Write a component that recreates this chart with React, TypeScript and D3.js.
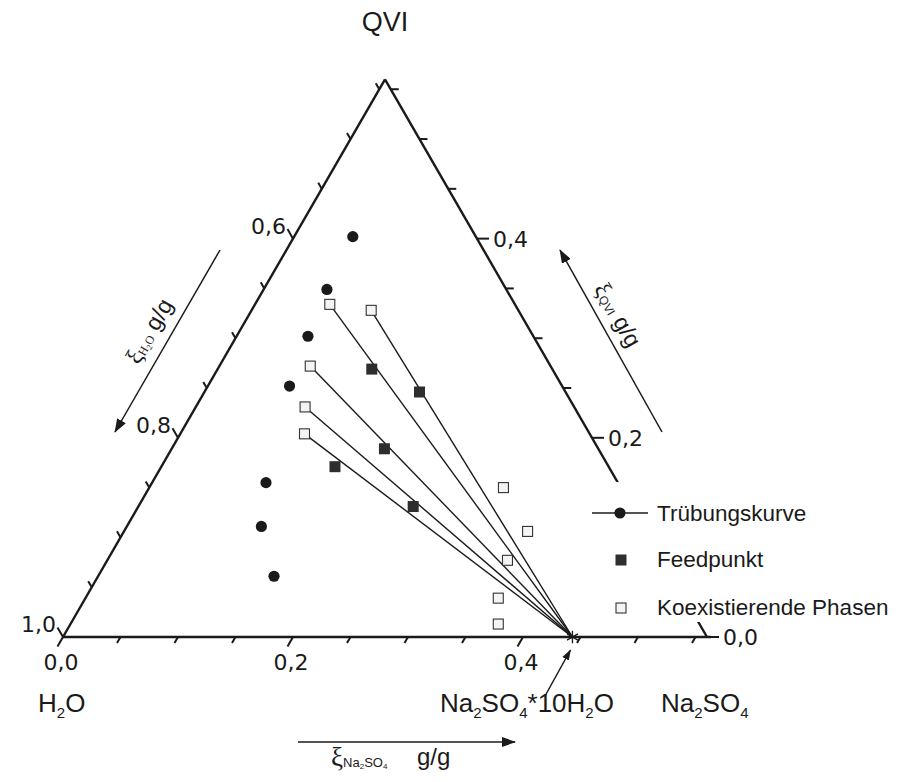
import React from 'react';
import * as d3 from 'd3';

// ---- Data (mass fractions, g/g) ----
// Trübungskurve (cloud point curve)
const cloudNa = [0.051, 0.055, 0.062, 0.071, 0.099, 0.117, 0.153];
const cloudQVI = [0.402, 0.349, 0.302, 0.252, 0.155, 0.111, 0.061];
// Feedpunkte
const feedNa = [0.134, 0.187, 0.185, 0.151, 0.239];
const feedQVI = [0.269, 0.246, 0.189, 0.171, 0.131];
// Koexistierende Phasen (upper, connected by tie lines)
const topNa = [0.065, 0.104, 0.079, 0.095, 0.108];
const topQVI = [0.334, 0.328, 0.272, 0.231, 0.204];
// Koexistierende Phasen (lower)
const botNa = [0.308, 0.351, 0.348, 0.359, 0.372];
const botQVI = [0.150, 0.106, 0.077, 0.039, 0.013];
// Na2SO4*10H2O
const hydrateNa = 0.443;
const hydrateQVI = 0;
// Axis
const axisSpan = 0.56;
const tickValues = d3.range(0, 0.5501, 0.05);
const labelValues = [0, 0.2, 0.4];

const W = 898, H = 782;
const X0 = 63, Y0 = 637;
const SIDE = 644;
const s = d3.scaleLinear().domain([0, axisSpan]).range([0, SIDE]);
const SQ3 = Math.sqrt(3) / 2;
const proj = (na: number, q: number): [number, number] => [X0 + s(na + q / 2), Y0 - s(q) * SQ3];
const fmt = (v: number) => d3.format('.1f')(v).replace('.', ',');

const SANS = 'Liberation Sans, Arial, sans-serif';
const TICKFONT = 'DejaVu Sans, Liberation Sans, sans-serif';
const SERIF = 'Liberation Serif, Times New Roman, serif';
const INK = '#1a1a1a';

export default function App() {
  const pBL = proj(0, 0);
  const pBR = proj(axisSpan, 0);
  const pTop = proj(0, axisSpan);
  const hyd = proj(hydrateNa, hydrateQVI);
  const star = d3.symbol(d3.symbolAsterisk, 110)() as string;
  const sq = 11;

  const ticks: JSX.Element[] = [];
  tickValues.forEach((v, i) => {
    const major = labelValues.some((l) => Math.abs(l - v) < 1e-6);
    const len = major ? 11 : 7;
    // bottom (Na2SO4)
    const b = proj(v, 0);
    ticks.push(<line key={'b' + i} x1={b[0]} y1={b[1]} x2={b[0] - 0.5 * len} y2={b[1] + SQ3 * len} />);
    // left (H2O)
    const l = proj(0, v);
    ticks.push(<line key={'l' + i} x1={l[0]} y1={l[1]} x2={l[0] - 0.5 * len} y2={l[1] - SQ3 * len} />);
    // right (QVI)
    const r = proj(axisSpan - v, v);
    ticks.push(<line key={'r' + i} x1={r[0]} y1={r[1]} x2={r[0] + len + 1} y2={r[1]} />);
  });

  return (
    <svg width={W} height={H} style={{ display: 'block', margin: '-8px', background: '#fff' }}>
      <defs>
        <marker id="ah" viewBox="0 0 14 10" refX="13" refY="5" markerWidth="14" markerHeight="10" markerUnits="userSpaceOnUse" orient="auto">
          <path d="M0,0 L14,5 L0,10 Z" fill={INK} />
        </marker>
        <marker id="ahs" viewBox="0 0 12 8" refX="11" refY="4" markerWidth="11" markerHeight="8" markerUnits="userSpaceOnUse" orient="auto">
          <path d="M0,0 L12,4 L0,8 Z" fill={INK} />
        </marker>
      </defs>

      {/* triangle edges */}
      <g stroke={INK} strokeWidth={2.4} fill="none" strokeLinecap="butt">
        <line x1={pBL[0]} y1={pBL[1]} x2={pBR[0] + 4} y2={pBR[1]} />
        <line x1={pBL[0]} y1={pBL[1]} x2={pTop[0]} y2={pTop[1]} />
        <line x1={pBR[0]} y1={pBR[1]} x2={pTop[0]} y2={pTop[1]} />
      </g>
      <g stroke={INK} strokeWidth={2}>{ticks}</g>

      {/* legend backdrop hides part of the right edge */}
      <rect x={585} y={482} width={313} height={140} fill="#fff" />

      {/* tick labels */}
      <g fontFamily={TICKFONT} fontSize={22} fill={INK}>
        {labelValues.map((v) => {
          const p = proj(v, 0);
          return <text key={'bl' + v} x={p[0] - 2} y={p[1] + 33} textAnchor="middle">{fmt(v)}</text>;
        })}
        {labelValues.map((v) => {
          const p = proj(0, v);
          return <text key={'ll' + v} x={p[0] - 7} y={p[1] - 5} textAnchor="end">{fmt(1 - v)}</text>;
        })}
        {labelValues.map((v) => {
          const p = proj(axisSpan - v, v);
          return <text key={'rl' + v} x={p[0] + 16} y={p[1] + 8} textAnchor="start">{fmt(v)}</text>;
        })}
      </g>

      {/* tie lines */}
      <g stroke={INK} strokeWidth={1.4}>
        {topNa.map((na, i) => {
          const p = proj(na, topQVI[i]);
          return <line key={'tl' + i} x1={p[0]} y1={p[1]} x2={hyd[0]} y2={hyd[1]} />;
        })}
      </g>

      {/* cloud points */}
      {cloudNa.map((na, i) => {
        const p = proj(na, cloudQVI[i]);
        return <circle key={'c' + i} cx={p[0]} cy={p[1]} r={5.6} fill={INK} />;
      })}
      {/* feed points */}
      {feedNa.map((na, i) => {
        const p = proj(na, feedQVI[i]);
        return <rect key={'f' + i} x={p[0] - sq / 2} y={p[1] - sq / 2} width={sq} height={sq} fill="#2e2e2e" />;
      })}
      {/* coexisting phases */}
      {[...topNa.map((na, i) => [na, topQVI[i]]), ...botNa.map((na, i) => [na, botQVI[i]])].map(([na, q], i) => {
        const p = proj(na, q);
        return <rect key={'o' + i} x={p[0] - sq / 2 + 0.5} y={p[1] - sq / 2 + 0.5} width={sq - 1} height={sq - 1} fill="#f4f4f4" stroke="#333" strokeWidth={1.1} />;
      })}

      {/* hydrate point */}
      <path d={star} transform={`translate(${hyd[0]},${hyd[1]})`} fill="none" stroke={INK} strokeWidth={1.3} />
      <line x1={545} y1={696} x2={hyd[0] - 2} y2={hyd[1] + 13} stroke={INK} strokeWidth={1.5} markerEnd="url(#ahs)" />

      {/* legend */}
      <g fontFamily={SANS} fontSize={22.5} fill={INK}>
        <line x1={592} y1={513} x2={648} y2={513} stroke={INK} strokeWidth={1.5} />
        <circle cx={620} cy={513} r={5.6} fill={INK} />
        <text x={657} y={521}>Trübungskurve</text>
        <rect x={621 - sq / 2} y={560 - sq / 2} width={sq} height={sq} fill="#2e2e2e" />
        <text x={657} y={567}>Feedpunkt</text>
        <rect x={621 - sq / 2 + 0.5} y={608 - sq / 2 + 0.5} width={sq - 1} height={sq - 1} fill="#f4f4f4" stroke="#333" strokeWidth={1.1} />
        <text x={657} y={615}>Koexistierende Phasen</text>
      </g>

      {/* vertex / component labels */}
      <g fontFamily={SANS} fill={INK}>
        <text x={pTop[0]} y={31} textAnchor="middle" fontSize={27}>QVI</text>
        <text x={38} y={712} fontSize={26}>H<tspan fontSize={15} dy={6}>2</tspan><tspan dy={-6}>O</tspan></text>
        <text x={440} y={712} fontSize={26}>Na<tspan fontSize={15} dy={6}>2</tspan><tspan dy={-6}>SO</tspan><tspan fontSize={15} dy={6}>4</tspan><tspan dy={-6}>*10H</tspan><tspan fontSize={15} dy={6}>2</tspan><tspan dy={-6}>O</tspan></text>
        <text x={661} y={712} fontSize={26}>Na<tspan fontSize={15} dy={6}>2</tspan><tspan dy={-6}>SO</tspan><tspan fontSize={15} dy={6}>4</tspan></text>
      </g>

      {/* axis title arrows */}
      <g stroke={INK} strokeWidth={1.5}>
        <line x1={298} y1={742} x2={515} y2={742} markerEnd="url(#ah)" />
        <line x1={220} y1={250} x2={115} y2={432} markerEnd="url(#ah)" />
        <line x1={662} y1={432} x2={560} y2={250} markerEnd="url(#ah)" />
      </g>
      <g fill={INK}>
        <text x={331} y={766} fontFamily={SERIF} fontSize={27}>ξ<tspan fontFamily={SANS} fontSize={13} dy={1}>Na</tspan><tspan fontFamily={SANS} fontSize={8} dy={2}>2</tspan><tspan fontFamily={SANS} fontSize={13} dy={-2}>SO</tspan><tspan fontFamily={SANS} fontSize={8} dy={2}>4</tspan></text>
        <text x={417} y={765} fontFamily={SANS} fontSize={24}>g/g</text>
        <text transform="translate(156,335) rotate(-60)" textAnchor="middle" fontFamily={SERIF} fontSize={24}>ξ<tspan fontSize={12} dy={1}>H</tspan><tspan fontSize={8} dy={2}>2</tspan><tspan fontSize={12} dy={-2}>O</tspan><tspan fontFamily={SANS} fontSize={23} dy={-1}> g/g</tspan></text>
        <text transform="translate(611,319) rotate(60)" textAnchor="middle" fontFamily={SERIF} fontSize={24}>ξ<tspan fontFamily={SANS} fontSize={12} dy={1}>QVI</tspan><tspan fontFamily={SANS} fontSize={23} dy={-1}> g/g</tspan></text>
      </g>
    </svg>
  );
}
